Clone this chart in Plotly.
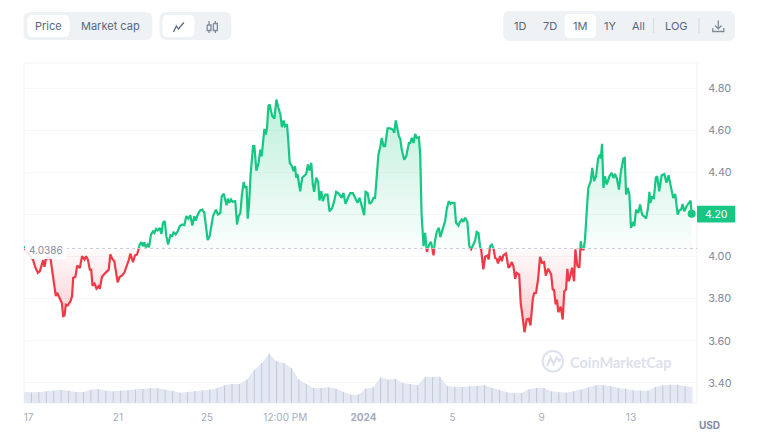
import numpy as np
import plotly.graph_objects as go

# Days since 17 Dec 2023 00:00, and price in USD
days = [-0.21,-0.09,0.03,0.21,0.30,0.42,0.51,0.60,0.66,0.72,0.78,0.87,0.99,1.08,1.14,1.23,1.29,1.36,1.44,1.50,1.56,1.62,1.68,1.77,1.89,1.96,2.01,2.11,2.19,2.31,2.41,2.52,2.59,2.67,2.76,2.82,2.88,2.97,3.06,3.15,3.21,3.30,3.39,3.51,3.61,3.68,3.77,3.86,3.95,4.01,4.10,4.21,4.31,4.43,4.52,4.58,4.70,4.79,4.88,4.94,
5.00,5.08,5.15,5.21,5.27,5.36,5.42,5.51,5.60,5.66,5.74,5.81,5.90,5.98,6.05,6.13,6.20,6.28,6.38,6.47,6.53,6.62,6.71,6.80,6.91,7.01,7.10,7.19,7.28,7.37,7.46,7.52,7.63,7.73,7.82,7.91,7.97,8.06,8.15,8.22,8.30,8.43,8.52,8.63,8.69,8.78,8.85,8.91,8.97,9.03,9.11,9.18,9.30,9.38,9.45,9.53,9.60,9.68,9.74,9.81,9.86,9.92,9.99,
10.10,10.16,10.25,10.35,10.43,10.49,10.55,10.61,10.67,10.73,10.79,10.85,10.91,10.97,11.06,11.15,11.24,11.33,11.40,11.48,11.54,11.63,11.69,11.75,11.85,11.92,11.99,12.04,12.10,12.16,12.22,12.31,12.40,12.49,12.57,12.64,12.72,12.79,12.85,12.94,13.03,13.09,13.17,13.24,13.35,13.45,13.54,13.66,13.75,13.84,13.96,14.08,14.17,14.26,14.37,14.47,14.59,14.71,14.80,14.89,14.98,15.10,15.16,
15.25,15.34,15.43,15.52,15.59,15.67,15.74,15.82,15.89,15.97,16.04,16.15,16.27,16.39,16.45,16.52,16.60,16.66,16.72,16.79,16.90,16.99,17.11,17.17,17.24,17.32,17.39,17.47,17.56,17.62,17.68,17.77,17.84,17.92,18.01,18.10,18.16,18.22,18.28,18.37,18.46,18.52,18.62,18.74,18.81,18.90,18.99,19.05,19.16,19.23,19.34,19.41,19.49,19.56,19.64,19.74,19.83,19.91,20.01,20.09,20.16,20.24,20.31,20.36,
20.46,20.54,20.64,20.70,20.76,20.84,20.91,20.99,21.06,21.12,21.21,21.29,21.36,21.48,21.59,21.66,21.74,21.81,21.89,21.96,22.07,22.14,22.23,22.31,22.41,22.50,22.58,22.68,22.74,22.83,22.92,23.01,23.10,23.19,23.27,23.37,23.43,23.51,23.58,23.64,23.71,23.77,23.83,23.94,24.03,24.10,24.18,24.24,24.30,24.37,24.45,24.54,24.60,24.69,24.78,24.84,24.90,24.97,25.03,
25.11,25.18,25.29,25.36,25.44,25.53,25.62,25.71,25.74,25.80,25.86,25.93,26.01,26.13,26.23,26.31,26.38,26.46,26.56,26.65,26.76,26.82,26.88,26.95,27.03,27.10,27.21,27.25,27.33,27.43,27.51,27.60,27.69,27.78,27.87,27.93,27.97,28.05,28.13,28.22,28.28,28.37,28.48,28.60,28.70,28.79,28.88,29.00,29.09,29.20,29.27,29.36,29.42,29.50,29.60,29.72,29.78,29.83]
price = [4.049,4.025,4.010,3.983,3.951,3.923,3.930,3.957,3.983,3.951,3.986,3.994,3.991,3.923,3.883,3.812,3.828,3.809,3.788,3.780,3.717,3.720,3.772,3.769,3.788,3.812,3.899,3.903,3.957,3.946,4.002,3.986,4.002,3.986,3.938,3.938,3.862,3.872,3.848,3.859,3.847,3.903,3.915,3.926,3.938,4.010,3.989,3.978,3.923,3.878,3.903,3.910,3.923,3.957,3.986,4.014,3.973,4.005,4.010,4.030,
4.057,4.068,4.049,4.068,4.044,4.057,4.044,4.105,4.120,4.112,4.131,4.124,4.136,4.108,4.160,4.168,4.097,4.057,4.101,4.097,4.117,4.105,4.120,4.144,4.152,4.149,4.192,4.180,4.196,4.147,4.192,4.171,4.203,4.220,4.223,4.207,4.144,4.078,4.097,4.136,4.192,4.223,4.199,4.207,4.286,4.298,4.275,4.244,4.275,4.255,4.271,4.260,4.263,4.152,4.192,4.207,4.294,4.354,4.326,4.334,4.180,4.247,4.389,
4.524,4.524,4.408,4.445,4.508,4.476,4.532,4.606,4.579,4.611,4.714,4.722,4.690,4.666,4.655,4.745,4.706,4.674,4.614,4.646,4.619,4.627,4.540,4.445,4.429,4.405,4.429,4.374,4.392,4.358,4.310,4.374,4.381,4.392,4.437,4.408,4.445,4.342,4.307,4.374,4.354,4.266,4.310,4.263,4.294,4.294,4.215,4.231,4.263,4.307,4.299,4.279,4.302,4.250,4.279,4.301,4.301,4.271,4.255,4.279,4.247,4.196,4.307,
4.302,4.250,4.259,4.279,4.279,4.389,4.484,4.519,4.563,4.524,4.524,4.608,4.608,4.603,4.587,4.646,4.611,4.571,4.560,4.508,4.460,4.476,4.539,4.539,4.563,4.539,4.582,4.563,4.566,4.484,4.207,4.049,4.112,4.022,4.054,4.070,4.041,4.006,4.073,4.120,4.136,4.092,4.128,4.168,4.223,4.263,4.250,4.255,4.255,4.160,4.147,4.165,4.176,4.165,4.184,4.165,4.049,4.035,4.054,4.076,4.117,4.112,4.049,4.033,
3.939,3.999,4.005,3.986,4.049,4.057,4.042,3.994,3.989,3.967,4.002,3.978,4.005,4.015,3.947,3.955,3.974,3.955,3.894,3.923,3.915,3.780,3.709,3.641,3.701,3.705,3.673,3.796,3.825,3.828,3.891,3.999,3.970,3.973,3.910,3.942,3.931,3.915,3.844,3.841,3.773,3.796,3.736,3.762,3.701,3.836,3.844,3.942,3.883,3.907,3.947,3.883,4.034,3.955,3.947,4.073,4.034,4.034,4.078,
4.215,4.326,4.358,4.421,4.358,4.381,4.465,4.484,4.465,4.535,4.326,4.381,4.342,4.381,4.397,4.373,4.392,4.373,4.318,4.405,4.465,4.468,4.294,4.326,4.294,4.136,4.165,4.144,4.223,4.207,4.247,4.199,4.191,4.180,4.234,4.307,4.255,4.282,4.278,4.376,4.381,4.310,4.386,4.392,4.350,4.386,4.339,4.278,4.297,4.199,4.218,4.223,4.250,4.215,4.239,4.255,4.266,4.203]

# Relative 8-hourly volume, oldest first
volume = [34,32,33,35,36,40,37,33,33,40,42,37,35,37,39,40,42,44,44,41,36,31,33,36,38,40,45,53,57,57,70,100,120,148,125,120,105,70,57,45,45,47,43,33,25,25,
43,47,77,70,73,60,57,53,78,78,79,50,48,48,50,51,53,45,40,32,29,30,42,45,45,35,32,31,35,40,47,53,53,50,45,43,38,37,37,48,53,55,55,50,48]

baseline = 4.0386
x_tick_labels = ["17", "21", "25", "12:00 PM", "<b>2024</b>", "5", "9", "13"]
x_tick_days = [0, 4.02, 8.03, 11.55, 15.07, 19.07, 23.08, 27.1]
y_tick_values = [3.4, 3.6, 3.8, 4.0, 4.2, 4.4, 4.6, 4.8]
y_tick_labels = ["3.40", "3.60", "3.80", "4.00", "", "4.40", "4.60", "4.80"]
last_label = "4.20"

W, H = 760, 442
L, R, T, B = 23.5, 697, 63, 403
GREEN, RED = "#16c784", "#ee3a46"
MUTED, SOFT = "#808a9d", "#a3acbf"
INK = "#58667e"
WATERMARK = "#dde1ec"

def px(v):
    return (v - L) / (R - L)

def py(v):
    return (B - v) / (B - T)

def rr(x0, y0, x1, y1, r):
    return (f"M{px(x0+r)},{py(y0)} L{px(x1-r)},{py(y0)} Q{px(x1)},{py(y0)} {px(x1)},{py(y0+r)} "
            f"L{px(x1)},{py(y1-r)} Q{px(x1)},{py(y1)} {px(x1-r)},{py(y1)} L{px(x0+r)},{py(y1)} "
            f"Q{px(x0)},{py(y1)} {px(x0)},{py(y1-r)} L{px(x0)},{py(y0+r)} Q{px(x0)},{py(y0)} {px(x0+r)},{py(y0)} Z")

def poly(points):
    return "M" + " L".join(f"{px(a)},{py(b)}" for a, b in points)

def box(x0, y0, x1, y1, r, color):
    return dict(type="path", xref="paper", yref="paper", path=rr(x0, y0, x1, y1, r),
                fillcolor=color, line=dict(width=0), layer="above")

def stroke(points, color=INK, width=1.3):
    return dict(type="path", xref="paper", yref="paper", path=poly(points),
                line=dict(color=color, width=width), layer="above")

def label(text, x, y, color=INK, size=11, **kw):
    return dict(text=text, x=px(x), y=py(y), xref="paper", yref="paper", showarrow=False,
                xanchor="center", yanchor="middle",
                font=dict(family="Inter", size=size, color=color), **kw)

# Insert the points where the line crosses the baseline, so colours change exactly there
xs, ys = [days[0]], [price[0]]
for a0, b0, a1, b1 in zip(days, price, days[1:], price[1:]):
    if (b0 - baseline) * (b1 - baseline) < 0:
        xs.append(a0 + (baseline - b0) / (b1 - b0) * (a1 - a0))
        ys.append(baseline)
    xs.append(a1)
    ys.append(b1)
xs, ys = np.array(xs), np.array(ys)

vol_x = [-0.20 + k * 0.3341 for k in range(len(volume))]
stem_x, stem_y = [], []
for a, b in zip(vol_x[1:-1], volume[1:-1]):
    stem_x += [a, a, None]
    stem_y += [0, b, None]

fig = go.Figure()
fig.add_trace(go.Scatter(x=vol_x, y=volume, yaxis="y2", mode="lines", line=dict(width=0), fill="tozeroy",
                         fillcolor="#e4e8f2", hoverinfo="skip", showlegend=False))
fig.add_trace(go.Scatter(x=stem_x, y=stem_y, yaxis="y2", mode="lines",
                         line=dict(color="rgba(176,184,208,0.65)", width=1),
                         hoverinfo="skip", showlegend=False))
for mask_fn, col, stop in [(np.maximum, "22,199,132", 4.75), (np.minimum, "238,58,70", 3.64)]:
    fig.add_trace(go.Scatter(x=xs, y=np.full(len(xs), baseline), mode="lines", line=dict(width=0),
                             hoverinfo="skip", showlegend=False))
    fig.add_trace(go.Scatter(x=xs, y=mask_fn(ys, baseline), mode="lines", line=dict(width=0), fill="tonexty",
                             fillgradient=dict(type="vertical", start=baseline, stop=stop,
                                               colorscale=[[0, f"rgba({col},0.02)"], [1, f"rgba({col},0.28)"]]),
                             hoverinfo="skip", showlegend=False))
fig.add_trace(go.Scatter(x=xs, y=np.where(ys >= baseline, ys, np.nan), mode="lines",
                         line=dict(color=GREEN, width=2.2), showlegend=False))
fig.add_trace(go.Scatter(x=xs, y=np.where(ys <= baseline, ys, np.nan), mode="lines",
                         line=dict(color=RED, width=2.2), showlegend=False))
fig.add_trace(go.Scatter(x=[days[-1]], y=[price[-1]], mode="markers",
                         marker=dict(color=GREEN, size=8), hoverinfo="skip", showlegend=False))

shapes = [
    dict(type="rect", xref="paper", yref="paper", x0=0, x1=1, y0=0, y1=1,
         line=dict(color="#f0f2f6", width=1), fillcolor="rgba(0,0,0,0)", layer="below"),
    dict(type="line", xref="paper", yref="y", x0=0, x1=1, y0=baseline, y1=baseline,
         line=dict(color="#c4c9d4", width=1, dash="dot"), layer="above"),
    box(24.5, 244.5, 66.5, 259, 2, "rgba(255,255,255,0.88)"),
    box(23, 12, 152, 40, 7, "#eff2f5"), box(27, 15, 69, 37, 5, "#ffffff"),
    box(159, 12, 231, 40, 7, "#eff2f5"), box(162, 15, 194, 37, 5, "#ffffff"),
    box(503, 11, 735, 41, 7, "#eff2f5"), box(564.5, 14, 596, 38, 5, "#ffffff"),
    stroke([(173, 32), (176, 26), (178, 29), (183.5, 22.5)]),
    stroke([(208.7, 21), (208.7, 25)], MUTED), stroke([(208.7, 30.5), (208.7, 33)], MUTED),
    stroke([(215, 21), (215, 23.5)], MUTED), stroke([(215, 30.5), (215, 33)], MUTED),
    stroke([(206.8, 25), (210.6, 25), (210.6, 30.5), (206.8, 30.5), (206.8, 25)], MUTED),
    stroke([(213, 23.5), (217, 23.5), (217, 30.5), (213, 30.5), (213, 23.5)], MUTED),
    stroke([(653.5, 18), (653.5, 33)], "#d5d9e2", 1), stroke([(699, 18), (699, 33)], "#d5d9e2", 1),
    stroke([(718.3, 20.5), (718.3, 28.5)], MUTED), stroke([(715, 25.5), (718.3, 28.8), (721.6, 25.5)], MUTED),
    stroke([(712.8, 28), (712.8, 31.5), (723.8, 31.5), (723.8, 28)], MUTED),
    dict(type="rect", xref="paper", yref="paper", x0=px(697), x1=px(735.3), y0=py(222.5), y1=py(205.7),
         fillcolor=GREEN, line=dict(width=0), layer="above"),
    dict(type="circle", xref="paper", yref="paper", x0=px(542.5), x1=px(563), y0=py(371.5), y1=py(351),
         line=dict(color=WATERMARK, width=2), layer="below"),
    stroke([(547, 366), (550.5, 357.5), (553.5, 364), (556.5, 357.5), (559, 361), (560.5, 359)], WATERMARK, 2.2),
]

annotations = [
    label("Price", 48, 26), label("Market cap", 110.5, 26),
    label("1D", 520, 26.5), label("7D", 549.5, 26.5), label("1M", 580, 26.5), label("1Y", 610, 26.5),
    label("All", 638.5, 26.5), label("LOG", 676, 26),
    label("4.0386", 45.5, 249.5, MUTED, 10),
    label(last_label, 716, 214.3, "#ffffff", 10.5),
    label("<b>USD</b>", 709.5, 424.5, MUTED, 10),
    dict(text="<b>CoinMarketCap</b>", x=px(620.5), y=py(362.5), xref="paper", yref="paper", showarrow=False,
         xanchor="center", yanchor="middle", font=dict(family="Lato", size=14.5, color=WATERMARK)),
]

fig.update_layout(
    width=W, height=H, margin=dict(l=L, r=W - R, t=T, b=H - B, pad=0),
    paper_bgcolor="white", plot_bgcolor="white", showlegend=False,
    shapes=shapes, annotations=annotations, hovermode=False,
    font=dict(family="Inter"),
    xaxis=dict(range=[-0.202, 30.07], tickvals=x_tick_days, ticktext=x_tick_labels, showgrid=False, zeroline=False,
               ticks="outside", ticklen=5, tickcolor="rgba(0,0,0,0)", showline=False,
               tickfont=dict(size=10, color=SOFT)),
    yaxis=dict(range=[3.305, 4.9187], side="right", tickvals=y_tick_values, ticktext=y_tick_labels,
               gridcolor="#f6f7f9", gridwidth=1, zeroline=False, ticks="outside", ticklen=8,
               tickcolor="rgba(0,0,0,0)", showline=False, tickfont=dict(size=10.8, color=MUTED)),
    yaxis2=dict(range=[0, 1020], overlaying="y", visible=False, fixedrange=True),
)

fig.write_html("out.html", config=dict(displayModeBar=False), post_script="document.body.style.margin='0';")
